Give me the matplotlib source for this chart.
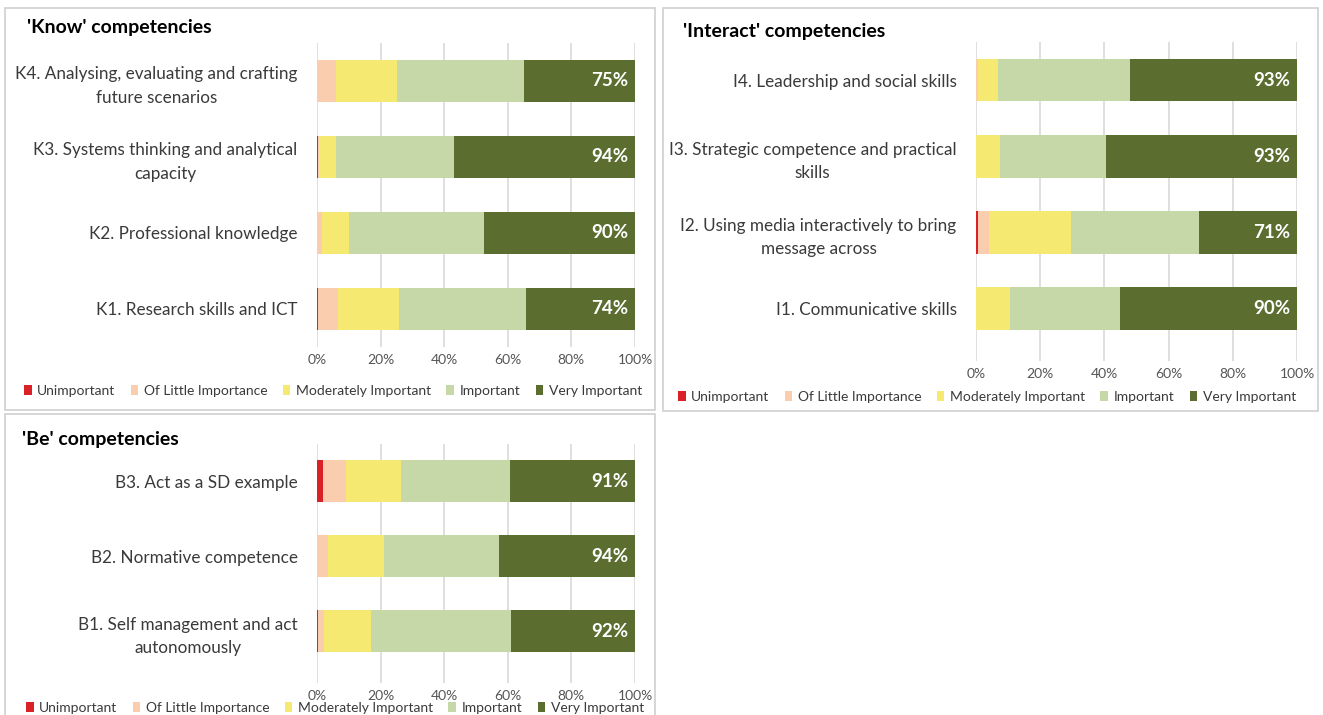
import matplotlib
matplotlib.use("Agg")
import matplotlib.pyplot as plt
from matplotlib.patches import Patch, Rectangle
import numpy as np

# --- Data (shares in %, order: Unimportant, Of Little, Moderately, Important, Very) ---
levels = ["Unimportant", "Of Little Importance", "Moderately Important",
          "Important", "Very Important"]
colors = ["#DA2128", "#F9CDAE", "#F5E971", "#C6D8A7", "#5B6E2F"]

know_cats = ["K4. Analysing, evaluating and crafting\nfuture scenarios",
             "K3. Systems thinking and analytical\ncapacity",
             "K2. Professional knowledge",
             "K1. Research skills and ICT"]
know_vals = [[0.0, 6.0, 19.0, 40.0, 35.0],
             [0.3, 0.2, 5.5, 37.0, 57.0],
             [0.0, 1.5, 8.5, 42.5, 47.5],
             [0.3, 6.3, 19.2, 40.0, 34.2]]
know_lbls = ["75%", "94%", "90%", "74%"]

inter_cats = ["I4. Leadership and social skills",
              "I3. Strategic competence and practical\nskills",
              "I2. Using media interactively to bring\nmessage across",
              "I1. Communicative skills"]
inter_vals = [[0.0, 0.5, 6.5, 41.0, 52.0],
              [0.0, 0.0, 7.5, 33.0, 59.5],
              [0.7, 3.5, 25.3, 40.0, 30.5],
              [0.0, 0.0, 10.5, 34.5, 55.0]]
inter_lbls = ["93%", "93%", "71%", "90%"]

be_cats = ["B3. Act as a SD example",
           "B2. Normative competence",
           "B1. Self management and act\nautonomously"]
be_vals = [[1.8, 7.3, 17.2, 34.4, 39.3],
           [0.0, 3.4, 17.6, 36.3, 42.7],
           [0.3, 2.0, 14.7, 43.9, 39.1]]
be_lbls = ["91%", "94%", "92%"]

xticks = [0, 20, 40, 60, 80, 100]
xtick_labels = ["0%", "20%", "40%", "60%", "80%", "100%"]

# --- Figure layout helpers (pixel coordinates) ---
W, H = 1323, 715
plt.rcParams["font.family"] = ["Lato", "DejaVu Sans"]
fig = plt.figure(figsize=(W / 100, H / 100), dpi=100)
fig.set_facecolor("white")


def px_rect(l, t, r, b):
    return [l / W, 1 - b / H, (r - l) / W, (b - t) / H]


def panel_box(l, t, r, b):
    fig.patches.append(Rectangle((l / W, 1 - b / H), (r - l) / W, (b - t) / H,
                                 transform=fig.transFigure, facecolor="none",
                                 edgecolor="#D0D0D0", linewidth=1.2))


def stacked(ax, cats, vals, lbls, ymax):
    vals = np.array(vals)
    y = np.arange(len(cats))
    left = np.zeros(len(cats))
    for i in range(vals.shape[1]):
        ax.barh(y, vals[:, i], left=left, height=0.56, color=colors[i],
                edgecolor="none", zorder=3)
        left += vals[:, i]
    for yi, s in zip(y, lbls):
        ax.text(97.8, yi, s, ha="right", va="center", color="white",
                fontsize=13.5, fontweight="bold", zorder=4)
    ax.set_xlim(0, 100)
    ax.set_ylim(ymax, -0.5)
    ax.set_xticks(xticks)
    ax.set_xticklabels(xtick_labels)
    ax.set_yticks(y)
    ax.set_yticklabels(cats)
    for t in ax.get_yticklabels():
        t.set_multialignment("center")
        t.set_linespacing(1.55)
    ax.tick_params(axis="y", length=0, pad=14, labelsize=12.3, labelcolor="#3A3A3A")
    ax.tick_params(axis="x", length=0, pad=5, labelsize=10, labelcolor="#555555")
    ax.xaxis.grid(True, color="#D9D9D9", linewidth=1.2, zorder=0)
    ax.set_axisbelow(True)
    for sp in ax.spines.values():
        sp.set_visible(False)


def legend_at(cx, cy):
    handles = [Patch(facecolor=c, edgecolor="none") for c in colors]
    fig.legend(handles, levels, loc="center", bbox_to_anchor=(cx / W, 1 - cy / H),
               ncol=5, frameon=False, handlelength=0.55, handleheight=0.75,
               handletextpad=0.4, columnspacing=1.1, fontsize=10,
               labelcolor="#3A3A3A")


# --- Panel boxes ---
panel_box(5, 8, 655, 410)
panel_box(663, 8, 1318, 411)
panel_box(5, 414, 655, 730)

# --- Know ---
ax_k = fig.add_axes(px_rect(317, 43, 635, 347))
stacked(ax_k, know_cats, know_vals, know_lbls, 3.5)
fig.text(27 / W, 1 - 28 / H, "'Know' competencies", fontsize=14,
         fontweight="bold", va="center", ha="left")
legend_at(333, 391)

# --- Interact ---
ax_i = fig.add_axes(px_rect(976, 42, 1297, 361))
stacked(ax_i, inter_cats, inter_vals, inter_lbls, 3.686)
fig.text(683 / W, 1 - 31 / H, "'Interact' competencies", fontsize=14,
         fontweight="bold", va="center", ha="left")
legend_at(987, 397)

# --- Be ---
ax_b = fig.add_axes(px_rect(317, 444, 635, 683))
stacked(ax_b, be_cats, be_vals, be_lbls, 2.687)
fig.text(22 / W, 1 - 440 / H, "'Be' competencies", fontsize=14,
         fontweight="bold", va="center", ha="left")
legend_at(335, 708)

fig.savefig("out.png", dpi=100, facecolor="white")
